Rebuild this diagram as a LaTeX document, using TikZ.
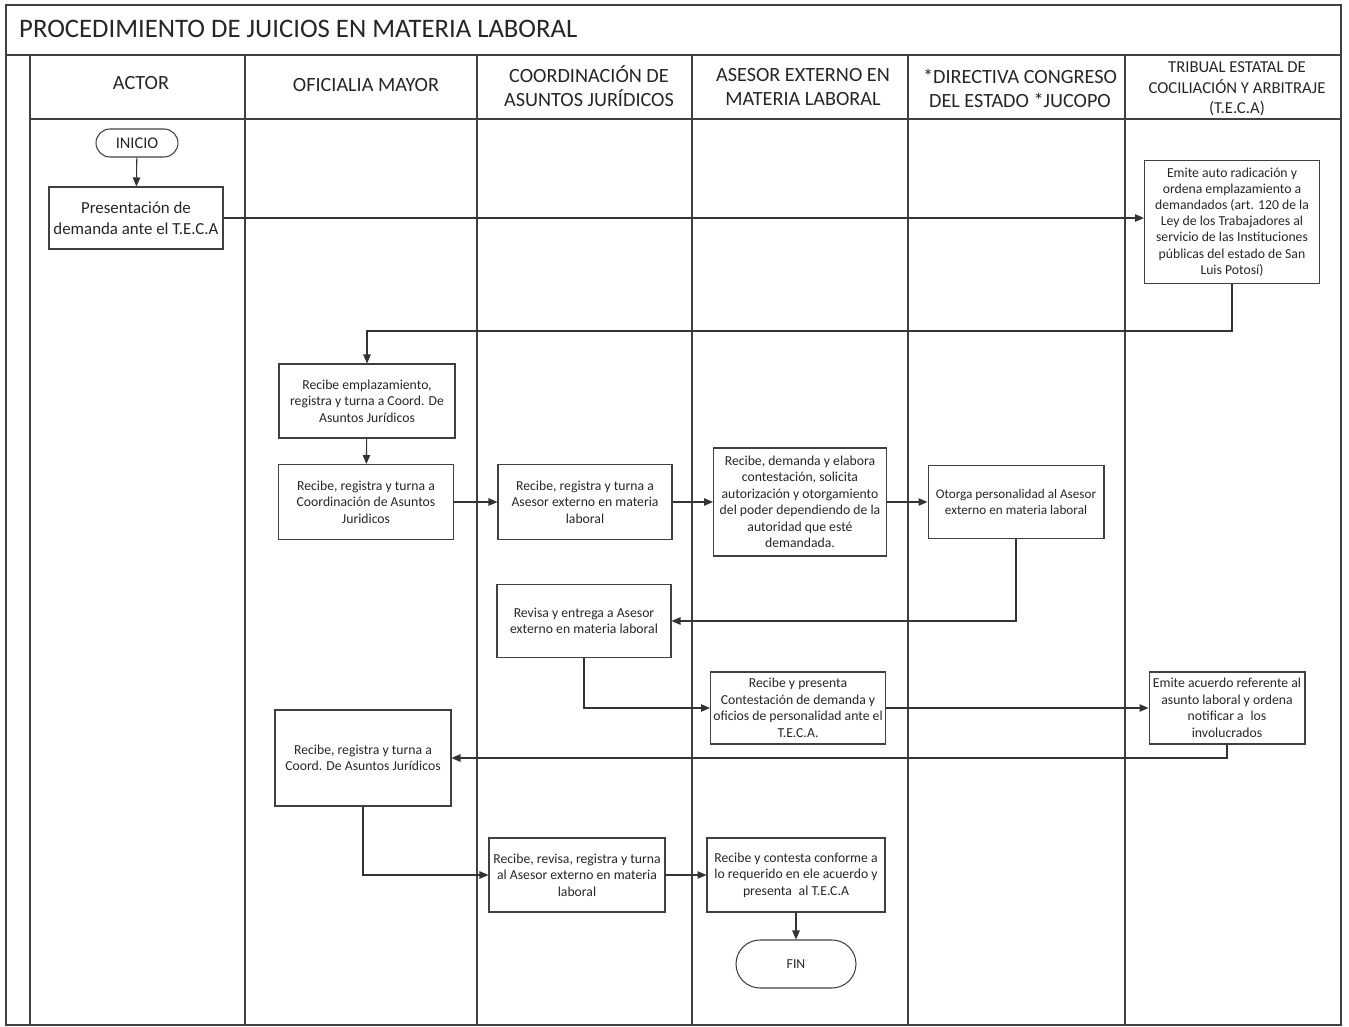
\documentclass[tikz,border=0pt]{standalone}
\usepackage{fontspec}
\setmainfont{Carlito}
\usepackage{tikz}
\usetikzlibrary{arrows.meta}

\begin{document}
\begin{tikzpicture}[x=0.02cm, y=-0.02cm]
    % Styles
    \tikzstyle{lane} = [draw=black!75, line width=0.6pt]
    \tikzstyle{proc} = [rectangle, draw=black!75, line width=0.6pt, inner sep=1pt, align=center, text=black!85, minimum width=3.5cm, minimum height=1.48cm, font=\fontsize{7.8}{9.4}\selectfont]
    \tikzstyle{term} = [rectangle, rounded corners=0.28cm, draw=black!75, line width=0.6pt, align=center, text=black!85, minimum width=1.64cm, minimum height=0.56cm, font=\fontsize{9.3}{11}\selectfont]
    \tikzstyle{head} = [align=center, text=black!85, font=\fontsize{11.5}{13.6}\selectfont]
    \tikzstyle{arrow} = [-{Triangle[length=1.8mm, width=1.5mm]}, draw=black!80, line width=0.6pt]

    \useasboundingbox (0,0) rectangle (1349,1027);

    % Frame, title and lanes
    \draw[lane] (6,5) rectangle (1341,1025);
    \draw[lane] (6,55) -- (1341,55);
    \draw[lane] (30,119) -- (1341,119);
    \foreach \xl in {30,245,477,692,908,1125}
        \draw[lane] (\xl,55) -- (\xl,1025);
    \node[anchor=west, text=black!85, font=\fontsize{15.2}{18}\selectfont] (titulo) at (13,29) {PROCEDIMIENTO DE JUICIOS EN MATERIA LABORAL};

    % Lane headers
    \node[head] (hActor) at (141,83) {ACTOR};
    \node[head] (hOficialia) at (366,85) {OFICIALIA MAYOR};
    \node[head] (hCoord) at (589,86) {COORDINACIÓN DE\\ASUNTOS JURÍDICOS};
    \node[head] (hAsesor) at (803,87) {ASESOR EXTERNO EN\\MATERIA LABORAL};
    \node[head] (hDirectiva) at (1020,88) {*DIRECTIVA CONGRESO\\DEL ESTADO *JUCOPO};
    \node[head, font=\fontsize{9.5}{11.8}\selectfont] (hTribunal) at (1237,89) {TRIBUAL ESTATAL DE\\COCILIACIÓN Y ARBITRAJE\\(T.E.C.A)};

    % Nodes
    \node[term] (inicio) at (137,143) {INICIO};
    \node[proc, minimum width=3.48cm, minimum height=1.24cm, font=\fontsize{9.6}{12}\selectfont] (presenta1) at (136,218) {Presentación de\\demanda ante el T.E.C.A};
    \node[proc, minimum height=2.46cm, font=\fontsize{7.8}{9.2}\selectfont] (emiteAuto) at (1232,222) {Emite auto radicación y\\ordena emplazamiento a\\demandados (art. 120 de la\\Ley de los Trabajadores al\\servicio de las Instituciones\\públicas del estado de San\\Luis Potosí)};
    \node[proc, minimum width=3.52cm] (recEmpl) at (367,401) {Recibe emplazamiento,\\registra y turna a Coord. De\\Asuntos Jurídicos};
    \node[proc, minimum height=1.5cm] (recTurna) at (366,502) {Recibe, registra y turna a\\Coordinación de Asuntos\\Juridicos};
    \node[proc, minimum width=3.48cm, minimum height=1.5cm] (coordTurna) at (585,502) {Recibe, registra y turna a\\Asesor externo en materia\\laboral};
    \node[proc, minimum width=3.46cm, minimum height=2.16cm] (asesorElab) at (800,502) {Recibe, demanda y elabora\\contestación, solicita\\autorización y otorgamiento\\del poder dependiendo de la\\autoridad que esté\\demandada.};
    \node[proc, minimum width=3.52cm, minimum height=1.46cm, font=\fontsize{7.5}{9.4}\selectfont] (dirOtorga) at (1016,502) {Otorga personalidad al Asesor\\externo en materia laboral};
    \node[proc, minimum width=3.48cm, minimum height=1.46cm] (revisa) at (584,621) {Revisa y entrega a Asesor\\externo en materia laboral};
    \node[proc, minimum height=1.44cm] (presenta2) at (798,708) {Recibe y presenta\\Contestación de demanda y\\oficios de personalidad ante el\\T.E.C.A.};
    \node[proc, minimum width=3.12cm, minimum height=1.44cm] (emiteAcuerdo) at (1227,708) {Emite acuerdo referente al\\asunto laboral y ordena\\notificar a\enspace los\\involucrados};
    \node[proc, minimum width=3.52cm, minimum height=1.92cm] (recTurnaDe) at (363,758) {Recibe, registra y turna a\\Coord. De Asuntos Jurídicos};
    \node[proc, minimum width=3.52cm] (recRevisa) at (577,875) {Recibe, revisa, registra y turna\\al Asesor externo en materia\\laboral};
    \node[proc, minimum width=3.56cm] (contesta) at (796,875) {Recibe y contesta conforme a\\lo requerido en ele acuerdo y\\presenta\enspace al T.E.C.A};
    \node[term, minimum width=2.4cm, minimum height=0.96cm, rounded corners=0.48cm, font=\fontsize{7.8}{9}\selectfont] (fin) at (796,964) {FIN};

    % Arrows
    \draw[arrow] (inicio) -- (presenta1);
    \draw[arrow] (presenta1.east) -- (presenta1.east -| emiteAuto.west);
    \draw[arrow] (emiteAuto.south) -- ++(0,47) -| (recEmpl.north);
    \draw[arrow] (recEmpl) -- (recTurna);
    \draw[arrow] (recTurna) -- (coordTurna);
    \draw[arrow] (coordTurna) -- (asesorElab);
    \draw[arrow] (asesorElab) -- (dirOtorga);
    \draw[arrow] (dirOtorga.south) |- (revisa.east);
    \draw[arrow] (revisa.south) |- (presenta2.west);
    \draw[arrow] (presenta2) -- (emiteAcuerdo);
    \draw[arrow] (emiteAcuerdo.south) |- (recTurnaDe.east);
    \draw[arrow] (recTurnaDe.south) |- (recRevisa.west);
    \draw[arrow] (recRevisa) -- (contesta);
    \draw[arrow] (contesta) -- (fin);
\end{tikzpicture}
\end{document}
